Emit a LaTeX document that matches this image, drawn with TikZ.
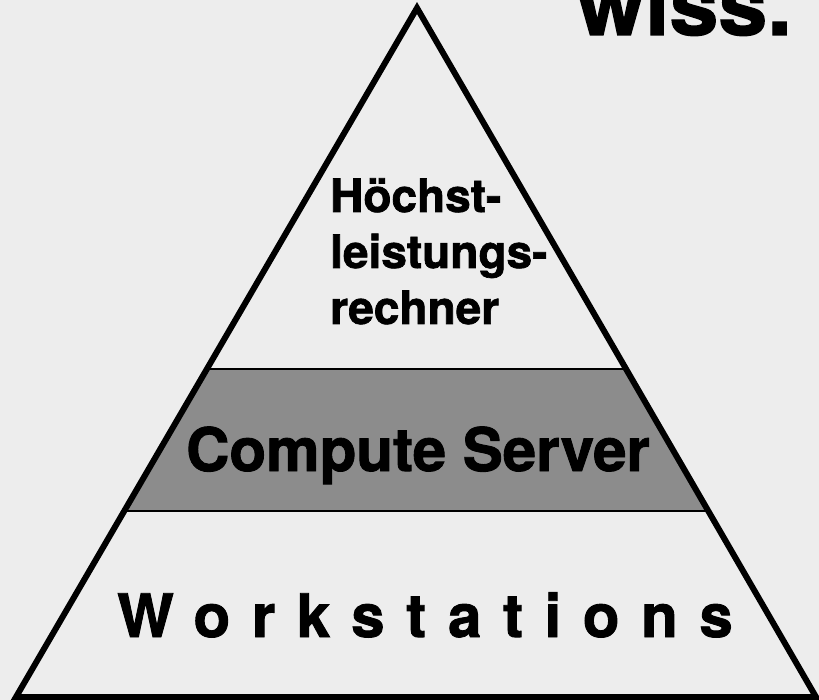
\documentclass[tikz,border=0pt]{standalone}
\usepackage{fontspec}
\setmainfont{TeX Gyre Heros}[BoldFeatures={FakeBold=1.5}]
\usetikzlibrary{calc}
\definecolor{paper}{gray}{0.93}
\definecolor{halftone}{gray}{0.55}
\tikzstyle{pyramid} = [draw=black, line width=6pt, line join=miter]
\tikzstyle{layerline} = [draw=black, line width=2pt]
\tikzstyle{tiertext} = [inner sep=0pt, text=black]

\begin{document}
\begin{tikzpicture}[x=1pt,y=-1pt]
\useasboundingbox (0,0) rectangle (819,700);
\clip (0,0) rectangle (819,700);
\fill[paper] (0,0) rectangle (819,700);

\coordinate (apex) at (417,8);
\coordinate (left) at (16,697);
\coordinate (right) at (816,697);
\coordinate (bandtl) at ($(apex)!0.524!(left)$);
\coordinate (bandtr) at ($(apex)!0.524!(right)$);
\coordinate (bandbl) at ($(apex)!0.730!(left)$);
\coordinate (bandbr) at ($(apex)!0.730!(right)$);

\fill[halftone] (bandtl) -- (bandtr) -- (bandbr) -- (bandbl) -- cycle;
\draw[layerline] (bandtl) -- (bandtr);
\draw[layerline] (bandbl) -- (bandbr);
\draw[pyramid] (apex) -- (right) -- (left) -- cycle;

\node[tiertext, font=\fontsize{46}{46}\selectfont\bfseries, anchor=base west] (hoechst) at (330,212) {Höchst-};
\node[tiertext, font=\fontsize{46}{46}\selectfont\bfseries, anchor=base west] (leistungs) at (330,268) {leistungs-};
\node[tiertext, font=\fontsize{46}{46}\selectfont\bfseries, anchor=base west] (rechner) at (330,324) {rechner};
\node[tiertext, font=\fontsize{60}{60}\selectfont\bfseries, anchor=base] (server) at (418,471) {Compute Server};
\node[tiertext, font=\fontsize{60}{60}\selectfont\bfseries, anchor=base west] (workst) at (117,637) {\addfontfeature{LetterSpace=36}Workstations};
\node[tiertext, font=\fontsize{88}{88}\selectfont\bfseries, anchor=base east] (wiss) at (792,35) {wiss.};
\end{tikzpicture}
\end{document}
